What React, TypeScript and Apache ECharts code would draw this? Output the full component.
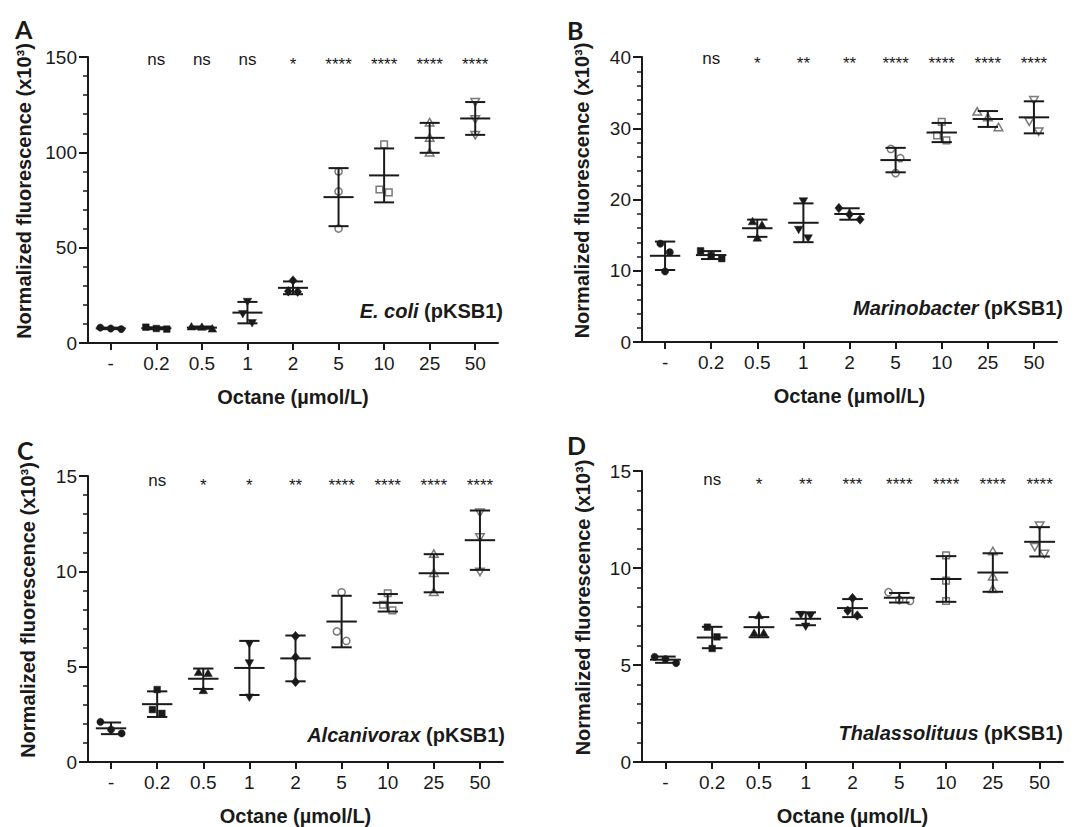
import React, { useEffect, useRef } from 'react';
import * as echarts from 'echarts';

// ---------- data ----------
const CATEGORIES = ['-', '0.2', '0.5', '1', '2', '5', '10', '25', '50'];

const ecoliValues = [
  [8.1, 7.3, 7.6], [8.3, 7.3, 7.6], [8.5, 7.4, 8.3], [21.8, 15.4, 10.6], [32.8, 26.9, 27.1],
  [90.0, 79.5, 60.0], [104.2, 79.0, 80.5], [115.5, 107.5, 99.8], [126.5, 117.5, 109.3],
];
const ecoliSig = ['', 'ns', 'ns', 'ns', '*', '****', '****', '****', '****'];

const marinoValues = [
  [13.8, 12.6, 9.9], [12.8, 11.7, 12.1], [16.9, 16.4, 14.6], [19.8, 15.8, 14.6], [18.8, 17.2, 17.9],
  [27.1, 25.8, 23.7], [30.9, 29.0, 28.3], [32.3, 31.5, 30.1], [34.0, 31.0, 29.6],
];
const marinoSig = ['', 'ns', '*', '**', '**', '****', '****', '****', '****'];

const alcaniValues = [
  [2.1, 1.7, 1.5], [3.8, 2.75, 2.55], [4.7, 4.65, 3.75], [6.2, 5.2, 3.4], [6.6, 5.5, 4.2],
  [8.9, 6.85, 6.35], [8.85, 8.25, 7.95], [10.9, 9.9, 8.9], [13.1, 11.8, 10.0],
];
const alcaniSig = ['', 'ns', '*', '*', '**', '****', '****', '****', '****'];

const thalaValues = [
  [5.42, 5.3, 5.1], [6.95, 6.45, 5.85], [7.55, 6.65, 6.65], [7.6, 7.55, 7.0], [8.45, 7.8, 7.55],
  [8.75, 8.35, 8.3], [10.65, 9.35, 8.3], [10.85, 9.55, 8.9], [12.2, 11.1, 10.75],
];
const thalaSig = ['', 'ns', '*', '**', '***', '****', '****', '****', '****'];

const yMaxes = [150, 40, 15, 15];
const ySteps = [50, 10, 5, 5];
const panelLetters = ['A', 'B', 'C', 'D'];
const speciesNames = ['E. coli', 'Marinobacter', 'Alcanivorax', 'Thalassolituus'];
const plasmid = '(pKSB1)';
const X_TITLE = 'Octane (µmol/L)';
const Y_TITLE = 'Normalized fluorescence (x10³)';

// ---------- layout / style ----------
const INK = '#1a1a1a';
const OPEN_INK = '#7a7a7a';
const FONT = '"Liberation Sans", Arial, sans-serif';

const panels = [
  { values: ecoliValues, sig: ecoliSig, grid: { left: 88, top: 57, width: 410, height: 286 }, sigOff: 2, yGap: 54,
    letter: { left: 15, top: 16 }, species: { right: 1089 - 503, top: 300 } },
  { values: marinoValues, sig: marinoSig, grid: { left: 642, top: 57, width: 415, height: 285 }, sigOff: 1, yGap: 50,
    letter: { left: 567, top: 17 }, species: { right: 1089 - 1063, top: 297 } },
  { values: alcaniValues, sig: alcaniSig, grid: { left: 88, top: 476, width: 415, height: 289 }, sigOff: 4, yGap: 50,
    letter: { left: 17, top: 437 }, species: { right: 1089 - 505, top: 724 } },
  { values: thalaValues, sig: thalaSig, grid: { left: 642, top: 471, width: 421, height: 293 }, sigOff: 8, yGap: 49,
    letter: { left: 567, top: 432 }, species: { right: 1089 - 1063, top: 722 } },
];

function symbolEl(kind: number, cx: number, cy: number) {
  const open = kind >= 5;
  const shape = kind % 5;
  const style = open
    ? { fill: '#fff', stroke: OPEN_INK, lineWidth: 1.5 }
    : { fill: INK, stroke: INK, lineWidth: 0.5 };
  const r = 3.6;
  if (shape === 0) return { type: 'circle', shape: { cx, cy, r }, style };
  if (shape === 1) return { type: 'rect', shape: { x: cx - 3.3, y: cy - 3.3, width: 6.6, height: 6.6 }, style };
  if (shape === 2)
    return { type: 'polygon', shape: { points: [[cx, cy - 4.3], [cx + 4.3, cy + 3.2], [cx - 4.3, cy + 3.2]] }, style };
  if (shape === 3)
    return { type: 'polygon', shape: { points: [[cx - 4.3, cy - 3.2], [cx + 4.3, cy - 3.2], [cx, cy + 4.3]] }, style };
  return { type: 'polygon', shape: { points: [[cx, cy - 4.8], [cx + 4, cy], [cx, cy + 4.8], [cx - 4, cy]] }, style };
}

function makeRenderItem(sig: string[], yMax: number, sigOff: number) {
  return (params: any, api: any) => {
    const idx = api.value(0);
    const vals = [api.value(1), api.value(2), api.value(3)];
    const n = vals.length;
    const band = api.size([1, 0])[0];
    const cx = api.coord([idx, 0])[0];
    const mean = vals.reduce((a, b) => a + b, 0) / n;
    const sd = Math.sqrt(vals.reduce((a, b) => a + (b - mean) * (b - mean), 0) / (n - 1));
    const ys = vals.map((v) => api.coord([idx, v])[1]);

    // spread overlapping points horizontally (beeswarm-like)
    const order = ys.map((_, i) => i).sort((a, b) => ys[a] - ys[b]);
    const offs = new Array(n).fill(0);
    let cluster = [order[0]];
    const flush = () => {
      const m = cluster.length;
      const sp = m === 2 ? band * 0.205 : band * 0.23;
      cluster.forEach((k, j) => { offs[k] = (j - (m - 1) / 2) * sp; });
    };
    for (let j = 1; j < n; j++) {
      if (ys[order[j]] - ys[order[j - 1]] < 10) cluster.push(order[j]);
      else { flush(); cluster = [order[j]]; }
    }
    flush();

    const children: any[] = [];
    vals.forEach((_, i) => children.push(symbolEl(idx, cx + offs[i], ys[i])));

    const yM = api.coord([idx, mean])[1];
    const yHi = api.coord([idx, mean + sd])[1];
    const yLo = api.coord([idx, mean - sd])[1];
    const meanHalf = band * 0.33;
    const capHalf = band * 0.22;
    const ls = { stroke: INK, lineWidth: 2 };
    children.push({ type: 'line', shape: { x1: cx, y1: yHi, x2: cx, y2: yLo }, style: ls });
    children.push({ type: 'line', shape: { x1: cx - capHalf, y1: yHi, x2: cx + capHalf, y2: yHi }, style: ls });
    children.push({ type: 'line', shape: { x1: cx - capHalf, y1: yLo, x2: cx + capHalf, y2: yLo }, style: ls });
    children.push({ type: 'line', shape: { x1: cx - meanHalf, y1: yM, x2: cx + meanHalf, y2: yM }, style: ls });

    const label = sig[idx];
    if (label) {
      const isStar = label.charAt(0) === '*';
      const yTop = api.coord([idx, yMax])[1];
      children.push({
        type: 'text',
        x: cx,
        y: yTop + sigOff + (isStar ? 5 : 0),
        style: {
          text: label,
          textAlign: 'center',
          textVerticalAlign: 'middle',
          fontSize: 17,
          fontFamily: FONT,
          fill: INK,
        },
      });
    }
    return { type: 'group', children };
  };
}

export default function App() {
  const ref = useRef<HTMLDivElement>(null);
  useEffect(() => {
    if (!ref.current) return;
    const chart = echarts.init(ref.current, undefined, { renderer: 'svg' });

    const grid = panels.map((p) => ({ ...p.grid, containLabel: false }));
    const xAxis = panels.map((p, i) => ({
      gridIndex: i,
      type: 'category',
      data: CATEGORIES,
      boundaryGap: true,
      axisLine: { show: true, lineStyle: { color: INK, width: 2 } },
      axisTick: { show: true, alignWithLabel: true, length: 7, lineStyle: { color: INK, width: 2 } },
      axisLabel: { fontSize: 19, color: INK, margin: 11, interval: 0, fontFamily: FONT },
      splitLine: { show: false },
      name: X_TITLE,
      nameLocation: 'middle',
      nameGap: 44,
      nameTextStyle: { fontSize: 20, fontWeight: 'bold', color: INK, fontFamily: FONT },
    }));
    const yAxis = panels.map((p, i) => ({
      gridIndex: i,
      type: 'value',
      min: 0,
      max: yMaxes[i],
      interval: ySteps[i],
      axisLine: { show: true, lineStyle: { color: INK, width: 2 } },
      axisTick: { show: true, length: 9, lineStyle: { color: INK, width: 2 } },
      minorTick: { show: true, splitNumber: 5, length: 5, lineStyle: { color: INK, width: 1.5 } },
      splitLine: { show: false },
      minorSplitLine: { show: false },
      axisLabel: { fontSize: 19, color: INK, margin: 11, fontFamily: FONT },
      name: Y_TITLE,
      nameLocation: 'middle',
      nameRotate: 90,
      nameGap: p.yGap,
      nameTextStyle: { fontSize: 20, fontWeight: 'bold', color: INK, fontFamily: FONT, padding: [0, 0, 0, 18] },
    }));
    const series = panels.map((p, i) => ({
      type: 'custom',
      xAxisIndex: i,
      yAxisIndex: i,
      data: p.values.map((v, k) => [k, ...v]),
      encode: { x: 0, y: [1, 2, 3] },
      renderItem: makeRenderItem(p.sig, yMaxes[i], p.sigOff),
      clip: false,
      silent: true,
    }));
    const title: any[] = [];
    panels.forEach((p, i) => {
      title.push({
        text: panelLetters[i],
        left: p.letter.left,
        top: p.letter.top,
        padding: 0,
        textStyle: { fontSize: 25, fontWeight: 'bold', color: INK, fontFamily: 'Lato, "Open Sans", sans-serif' },
      });
      title.push({
        text: `{i|${speciesNames[i]}}{n| ${plasmid}}`,
        right: p.species.right,
        top: p.species.top,
        padding: 0,
        textStyle: {
          rich: {
            i: { fontSize: 20, fontWeight: 'bold', fontStyle: 'italic', color: INK, fontFamily: FONT, lineHeight: 22 },
            n: { fontSize: 20, fontWeight: 'bold', color: INK, fontFamily: FONT, lineHeight: 22 },
          },
        },
      });
    });

    chart.setOption({
      animation: false,
      backgroundColor: '#ffffff',
      textStyle: { fontFamily: FONT },
      title,
      grid,
      xAxis,
      yAxis,
      series,
    });
    return () => chart.dispose();
  }, []);
  return (
    <div
      ref={ref}
      style={{ position: 'absolute', left: 0, top: 0, width: 1089, height: 827, background: '#fff' }}
    />
  );
}
